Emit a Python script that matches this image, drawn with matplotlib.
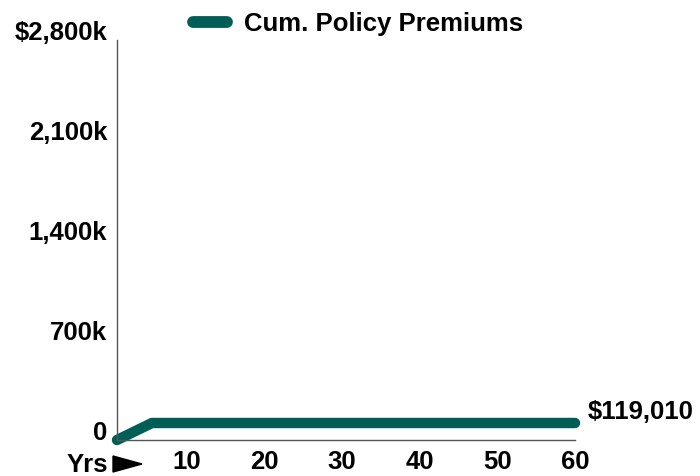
import matplotlib
matplotlib.use('Agg')
from matplotlib import pyplot as plt
from matplotlib.lines import Line2D
from matplotlib.patches import Polygon
import matplotlib.transforms as mtrans

plt.rcParams['font.family'] = ['Liberation Sans', 'DejaVu Sans']
plt.rcParams['font.weight'] = 'bold'

# data
years = [1, 5.5, 60]
premiums = [0, 119010, 119010]
yticks = [0, 700000, 1400000, 2100000, 2800000]
ytick_labels = ['0', '700k', '1,400k', '2,100k', '$2,800k']
xticks = [10, 20, 30, 40, 50, 60]
series_name = 'Cum. Policy Premiums'
end_label = '$119,010'

teal = '#005e57'
fs = 18.5
W, H = 700, 476

fig = plt.figure(figsize=(W/100, H/100), dpi=100)
ax = fig.add_axes([117/W, 36/H, 458/W, 400/H])

ax.plot(years, premiums, color=teal, lw=7.5, solid_capstyle='round',
        solid_joinstyle='round', clip_on=False)

ax.set_xlim(1, 60)
ax.set_ylim(0, 2800000)
ax.set_xticks(xticks)
ax.set_xticklabels([str(x) for x in xticks], fontsize=fs, fontweight='bold')
ax.set_yticks(yticks)
ax.set_yticklabels(ytick_labels, fontsize=fs, fontweight='bold',
                   va='center')
ax.tick_params(axis='both', length=0)
ax.tick_params(axis='x', pad=7)
ax.tick_params(axis='y', pad=7)

for s in ('top', 'right'):
    ax.spines[s].set_visible(False)
for s in ('left', 'bottom'):
    ax.spines[s].set_color('#555555')
    ax.spines[s].set_linewidth(1)

# y labels sit a bit above the ticks
off = mtrans.ScaledTranslation(0, 6.5/100, fig.dpi_scale_trans)
for t in ax.get_yticklabels():
    t.set_transform(t.get_transform() + off)

# end value label
ax.annotate(end_label, xy=(years[-1], premiums[-1]), xytext=(9, 8),
            textcoords='offset points', fontsize=fs, fontweight='bold',
            ha='left', va='center', annotation_clip=False)

# "Yrs" marker under the axis
fig.text(108/W, 1 - 465/H, 'Yrs', fontsize=fs, fontweight='bold',
         ha='right', va='center')
tri = Polygon([(113/W, 1 - 456/H), (113/W, 1 - 472/H), (142/W, 1 - 464/H)],
              closed=True, color='black', transform=fig.transFigure)
fig.patches.append(tri)

# legend
handle = Line2D([], [], color=teal, lw=8.5, solid_capstyle='round')
fig.legend([handle], [series_name], loc='center',
           bbox_to_anchor=(358/W, 1 - 23.5/H), frameon=False,
           handlelength=1.35, handletextpad=0.65,
           prop={'weight': 'bold', 'size': fs})

fig.savefig('out.png', dpi=100)
